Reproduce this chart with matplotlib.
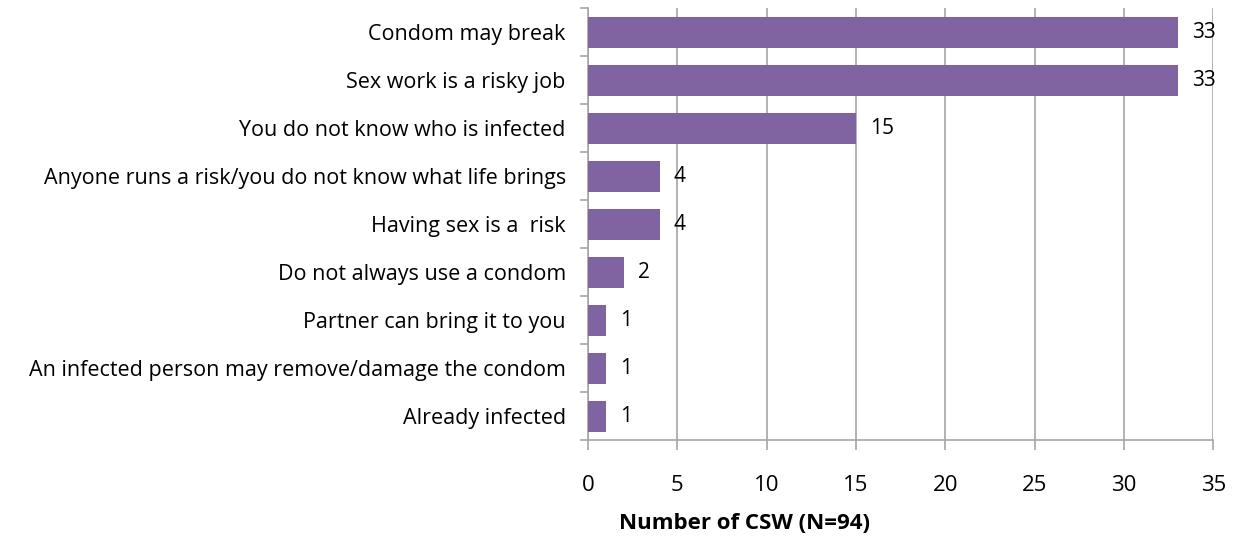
import matplotlib.pyplot as plt
import numpy as np

plt.rcParams['font.family'] = ['Open Sans', 'DejaVu Sans']

reasons = [
    "Condom may break",
    "Sex work is a risky job",
    "You do not know who is infected",
    "Anyone runs a risk/you do not know what life brings",
    "Having sex is a  risk",
    "Do not always use a condom",
    "Partner can bring it to you",
    "An infected person may remove/damage the condom",
    "Already infected",
]
counts = [33, 33, 15, 4, 4, 2, 1, 1, 1]
xticks = [0, 5, 10, 15, 20, 25, 30, 35]

bar_color = "#8064A2"
grid_color = "#A6A6A6"

fig = plt.figure(figsize=(12.38, 5.42), dpi=100)
ax = fig.add_axes([0.475, 0.188, 0.505, 0.797])

y = np.arange(len(reasons))
ax.barh(y, counts, height=0.65, color=bar_color, zorder=3)
for yi, c in zip(y, counts):
    ax.text(c + 0.8, yi, str(c), va='center', ha='left', fontsize=15, zorder=4)

ax.set_xlim(0, 35)
ax.set_ylim(len(reasons) - 0.5, -0.5)
ax.set_xticks(xticks)
ax.set_yticks(y)
ax.set_yticklabels(reasons, fontsize=15.5)
ax.set_yticks(np.arange(len(reasons) + 1) - 0.5, minor=True)
ax.tick_params(axis='y', which='major', length=0, pad=16)
ax.tick_params(axis='y', which='minor', length=6, color=grid_color, width=1.2)
ax.tick_params(axis='x', which='major', length=7, color=grid_color, width=1.2,
               labelsize=16, pad=18)

ax.grid(axis='x', color=grid_color, linewidth=1.2, zorder=0)
for s in ['top', 'right']:
    ax.spines[s].set_visible(False)
for s in ['left', 'bottom']:
    ax.spines[s].set_color(grid_color)
    ax.spines[s].set_linewidth(1.2)

ax.set_xlabel("Number of CSW (N=94)", fontsize=16, fontweight='bold')
ax.xaxis.set_label_coords(0.25, -0.192)
ax.xaxis.label.set_va('center')

fig.savefig("out.png", dpi=100)
